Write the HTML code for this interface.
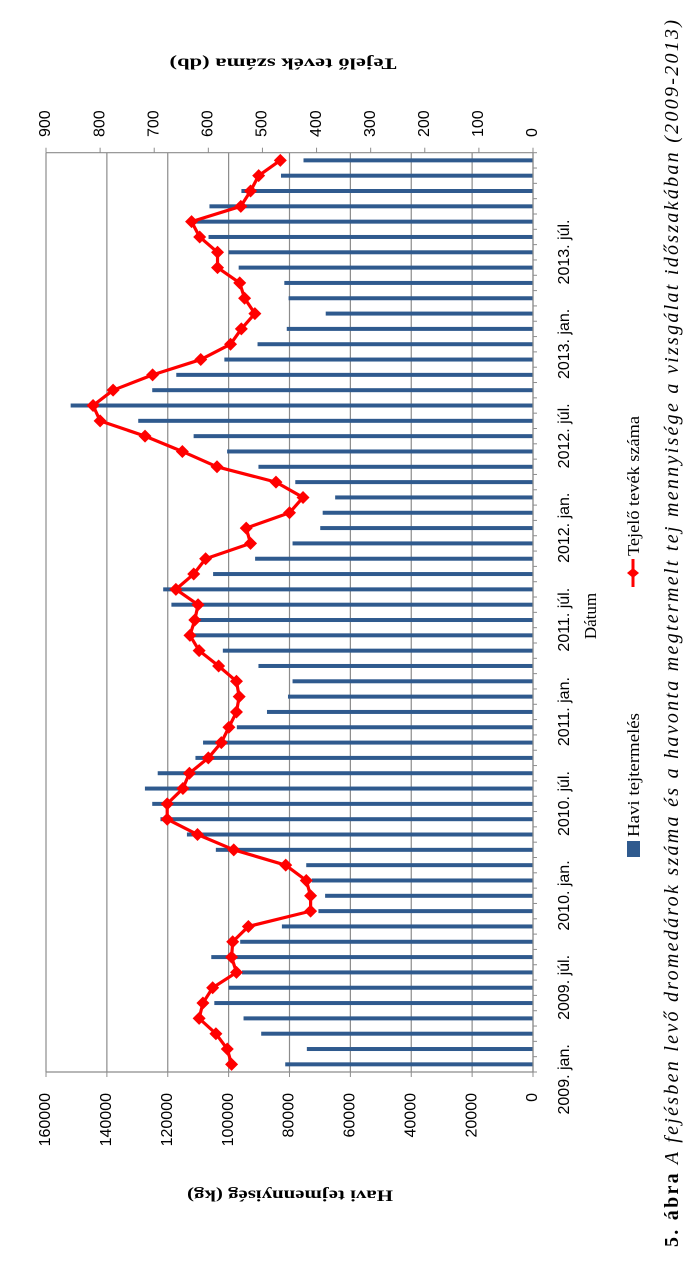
<!DOCTYPE html>
<html><head><meta charset="utf-8"><style>
html,body{margin:0;padding:0;background:#fff;}
#wrap{position:relative;width:691px;height:1263px;overflow:hidden;background:#fff;}
#chart{position:absolute;left:0;top:0;transform-origin:0 0;transform:translate(0,1263px) rotate(-90deg);}
text{font-family:"Liberation Serif",serif;}
</style></head><body>
<div id="wrap">
<svg id="chart" width="1263" height="691" viewBox="0 0 1263 691" xmlns="http://www.w3.org/2000/svg">
<g id="grid"></g>
<g id="bars"></g>
<g id="line"></g>
<g id="axes"></g>
<text x="69" y="290" transform="rotate(-90 69 290)" text-anchor="middle" dominant-baseline="middle" font-size="16" font-weight="bold" textLength="206" lengthAdjust="spacingAndGlyphs">Havi tejmennyiség (kg)</text>
<text x="1201" y="283" transform="rotate(-90 1201 283)" text-anchor="middle" dominant-baseline="middle" font-size="16" font-weight="bold" textLength="227" lengthAdjust="spacingAndGlyphs">Tejelő tevék száma (db)</text>
<text x="647" y="596" text-anchor="middle" font-size="17">Dátum</text>
<rect x="406" y="627" width="16" height="13" fill="#2f5a8e"></rect>
<text x="426" y="639" font-size="17" textLength="124" lengthAdjust="spacingAndGlyphs">Havi tejtermelés</text>
<line x1="676" y1="633" x2="704" y2="633" stroke="#f00" stroke-width="3"></line>
<path d="M690 627 L695 633 L690 639 L685 633Z" fill="#f00"></path>
<text x="707" y="639" font-size="17" textLength="140" lengthAdjust="spacingAndGlyphs">Tejelő tevék száma</text>
<text x="16" y="678" font-size="20" textLength="1227" lengthAdjust="spacing"><tspan font-weight="bold">5. ábra</tspan><tspan font-style="italic"> A fejésben levő dromedárok száma és a havonta megtermelt tej mennyisége a vizsgálat időszakában (2009-2013)</tspan></text>
</svg>
</div>
<script>
const categories = [];
const years = [2009,2010,2011,2012,2013];
const monthNames = ["jan.","febr.","márc.","ápr.","máj.","jún.","júl.","aug.","szept.","okt.","nov.","dec."];
for (const yy of years) for (const m of monthNames) categories.push(yy + ". " + m);
const milk = [81400,74300,89300,95100,104700,100000,95600,105700,96200,82500,
70500,68300,72700,74500,104200,113700,122400,125100,127500,123300,
110900,108400,97300,87400,80500,79000,90200,101900,112000,111500,
118800,121500,105100,91300,79000,69900,69100,65000,78100,90200,
100500,111500,129700,151900,125100,117200,101400,90500,80900,68100,
80300,81700,96700,100000,106600,110900,106300,95800,82800,75400];
const camels = [557,565,586,617,610,592,548,557,555,526,
411,411,419,457,553,620,676,676,647,635,
600,576,562,548,543,548,581,617,634,625,
619,660,627,605,522,530,450,425,475,584,
648,717,800,813,776,703,614,559,539,514,
533,542,583,583,616,631,540,522,507,467];
const leftTicks = [0,20000,40000,60000,80000,100000,120000,140000,160000];
const rightTicks = [0,100,200,300,400,500,600,700,800,900];
const labelEvery = 6;

const NS = "http://www.w3.org/2000/svg";
const U0 = 191, U1 = 1110.3, V0 = 533, V1 = 46;
const catW = (U1 - U0) / categories.length;
function xPos(i){ return U0 + (i + 0.5) * catW; }
function yLeft(val){ return V0 - (val / 160000) * (V0 - V1); }
function yRight(val){ return V0 - (val / 900) * (V0 - V1); }
function mk(tag, attrs, parent){ const e = document.createElementNS(NS, tag); for (const k in attrs) e.setAttribute(k, attrs[k]); parent.appendChild(e); return e; }

const grid = document.getElementById('grid');
for (const t of leftTicks) {
  const y = yLeft(t);
  const l = mk('line', {x1:U0, x2:U1, y1:y, y2:y, stroke:'#8c8c8c', 'stroke-width':1.2}, grid);
  
  
}
const axes = document.getElementById('axes');
let a = mk('line', {x1:U0, x2:U0, y1:V1, y2:V0, stroke:'#8c8c8c', 'stroke-width':1.2}, axes);


a = mk('line', {x1:U1, x2:U1, y1:V1, y2:V0, stroke:'#8c8c8c', 'stroke-width':1.2}, axes);


a = mk('line', {x1:U0, x2:U1, y1:V0, y2:V0, stroke:'#8c8c8c', 'stroke-width':1.2}, axes);


for (const t of leftTicks) {
  const y = yLeft(t);
  mk('line', {x1:U0-5, x2:U0, y1:y, y2:y, stroke:'#8c8c8c'}, axes);
  const tx = mk('text', {x:170, y:y, 'text-anchor':'end', 'dominant-baseline':'middle', 'font-size':16, style:'font-family:"Liberation Sans",sans-serif'}, axes);
  tx.textContent = t;
  
  
}
for (const t of rightTicks) {
  const y = yRight(t);
  mk('line', {x1:U1, x2:U1+5, y1:y, y2:y, stroke:'#8c8c8c'}, axes);
  const tx = mk('text', {x:1126, y:y, 'text-anchor':'start', 'dominant-baseline':'middle', 'font-size':16, style:'font-family:"Liberation Sans",sans-serif'}, axes);
  tx.textContent = t;
  
  
}
for (let i = 0; i <= categories.length; i++) {
  const u = U0 + i * catW;
  mk('line', {x1:u, x2:u, y1:V0, y2:V0+4, stroke:'#8c8c8c'}, axes);
}
for (let i = 0; i < categories.length; i += labelEvery) {
  const tx = mk('text', {x:xPos(i)-15, y:569, 'text-anchor':'middle', 'font-size':16, style:'font-family:"Liberation Sans",sans-serif'}, axes);
  tx.textContent = categories[i];
  
  
}
const bars = document.getElementById('bars');
milk.forEach((v, i) => {
  const y = yLeft(v);
  const r = mk('rect', {x:xPos(i)-2, y:y, width:4, height:V0-y, fill:'#2f5a8e'}, bars);
  
  
});
const lg = document.getElementById('line');
const pts = camels.map((v, i) => [xPos(i), yRight(v)]);
const pl = mk('polyline', {points: pts.map(p => p.join(',')).join(' '), fill:'none', stroke:'#f00', 'stroke-width':3.2, 'stroke-linejoin':'round'}, lg);


pts.forEach((p, i) => {
  const d = 6.5;
  const m = mk('path', {d:`M${p[0]} ${p[1]-d} L${p[0]+d} ${p[1]} L${p[0]} ${p[1]+d} L${p[0]-d} ${p[1]}Z`, fill:'#f00'}, lg);
  
  
});
</script>
</body></html>
